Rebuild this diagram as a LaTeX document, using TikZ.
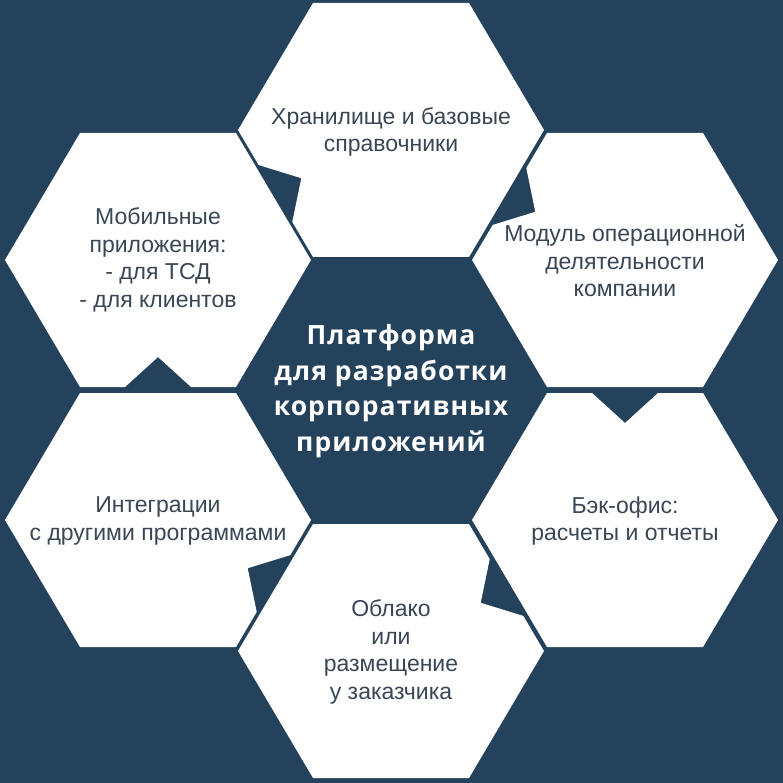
\documentclass[tikz,border=0pt]{standalone}
\usepackage{fontspec}
\setmainfont{Liberation Sans}
\newfontfamily\ctrfont[LetterSpace=4]{Open Sans}
\definecolor{bg}{HTML}{24425C}
\definecolor{txt}{HTML}{3A4654}
\begin{document}
\begin{tikzpicture}[x=1pt,y=-1pt,
  hexfill/.style={fill=white},
  lbl/.style={font=\fontsize{23}{27.5}\selectfont, text=txt, align=center, inner sep=0pt},
  ctr/.style={font=\ctrfont\bfseries\fontsize{26.5}{35.5}\selectfont, text=white, align=center, inner sep=0pt}]
\fill[bg] (0,0) rectangle (783,783);
\useasboundingbox (0,0) rectangle (783,783);
% top hexagon
\begin{scope}[shift={(391,130)}]
\fill[hexfill] (153,0) -- (78,-127) -- (-78,-127) -- (-153,0) -- (-132.3,35.1) -- (-89.7,48.2) -- (-98.7,91.9) -- (-78,127) -- (78,127) -- cycle;
\node[lbl] (top) at (0,2) {Хранилище и базовые\\справочники};
\end{scope}
% upper right
\begin{scope}[shift={(625,260)}]
\fill[hexfill] (153,0) -- (78,-127) -- (-78,-127) -- (-98.7,-91.9) -- (-89.7,-48.2) -- (-132.3,-35.1) -- (-153,0) -- (-78,127) -- (78,127) -- cycle;
\node[lbl] (ur) at (0,1) {Модуль операционной\\делятельности\\компании};
\end{scope}
% lower right
\begin{scope}[shift={(625,520)}]
\fill[hexfill] (153,0) -- (78,-127) -- (33,-127) -- (0,-97) -- (-33,-127) -- (-78,-127) -- (-153,0) -- (-78,127) -- (78,127) -- cycle;
\node[lbl] (lr) at (0,1) {Бэк-офис:\\расчеты и отчеты};
\end{scope}
% bottom
\begin{scope}[shift={(391,651)}]
\fill[hexfill] (153,0) -- (132.3,-35.1) -- (89.7,-48.2) -- (98.7,-91.9) -- (78,-127) -- (-78,-127) -- (-153,0) -- (-78,127) -- (78,127) -- cycle;
\node[lbl] (bot) at (0,1) {Облако\\или\\размещение\\у заказчика};
\end{scope}
% lower left
\begin{scope}[shift={(158,520)}]
\fill[hexfill] (153,0) -- (78,-127) -- (-78,-127) -- (-153,0) -- (-78,127) -- (78,127) -- (98.7,91.9) -- (89.7,48.2) -- (132.3,35.1) -- cycle;
\node[lbl] (ll) at (0,1) {Интеграции\\с другими программами};
\end{scope}
% upper left
\begin{scope}[shift={(158,260)}]
\fill[hexfill] (153,0) -- (78,-127) -- (-78,-127) -- (-153,0) -- (-78,127) -- (-33,127) -- (0,97) -- (33,127) -- (78,127) -- cycle;
\node[lbl] (ul) at (0,0) {Мобильные\\приложения:\\- для ТСД\\- для клиентов};
\end{scope}
% centre
\node[ctr] (center) at (391,391) {Платформа\\для разработки\\корпоративных\\приложений};
\end{tikzpicture}
\end{document}
